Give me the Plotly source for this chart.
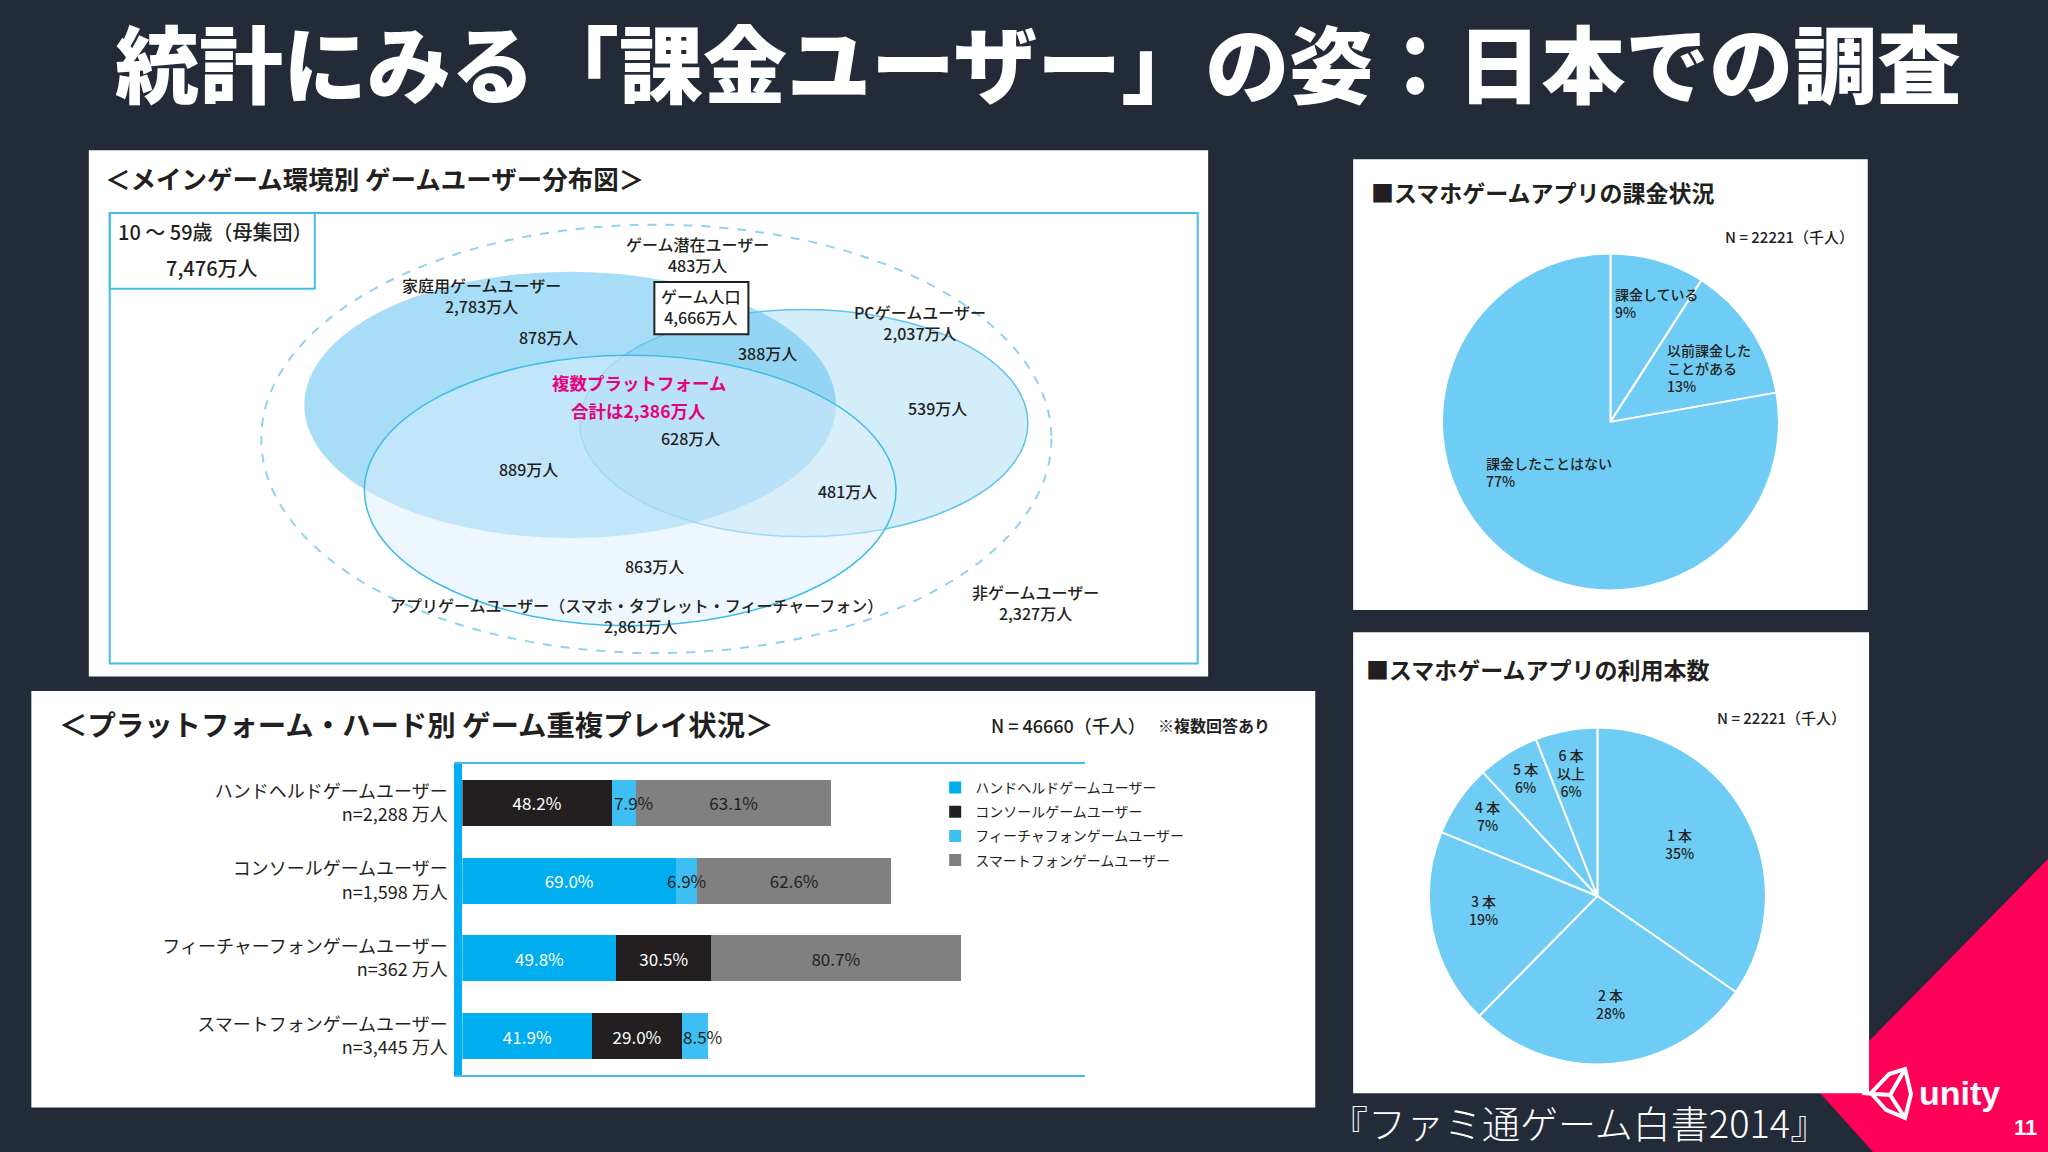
import plotly.graph_objects as go

# 重複プレイ状況の棒グラフ
USER_TYPES = ["ハンドヘルドゲームユーザー", "コンソールゲームユーザー", "フィーチャーフォンゲームユーザー", "スマートフォンゲームユーザー"]
USER_COUNTS = ["n=2,288 万人", "n=1,598 万人", "n=362 万人", "n=3,445 万人"]
HANDHELD = [None, 69.0, 49.8, 41.9]
CONSOLE = [48.2, None, 30.5, 29.0]
FEATURE = [7.9, 6.9, None, 8.5]
SMARTPHONE = [63.1, 62.6, 80.7, None]

# 円グラフ
BILLING_LABELS = ["課金している", "以前課金した<br>ことがある", "課金したことはない"]
BILLING_VALUES = [9, 13, 77]
APPS_LABELS = ["1 本", "2 本", "3 本", "4 本", "5 本", "6 本<br>以上"]
APPS_VALUES = [35, 28, 19, 7, 6, 6]

FONT = "Noto Sans CJK JP"
BG = "#232B38"
INK = "#231F20"
FRAME = "#45BDE8"
PIE_BLUE = "#6FCDF5"
BAR_COLORS = ["#00AEEF", "#231F20", "#3DBFF3", "#808080"]
S = 2048 / 1568  # 元画像の縮小座標からの倍率


def px(x):
    return x * S / 2048


def py(y):
    return 1 - y * S / 1152


def box(x0, y0, x1, y1, fill=None, line=None, width=0, kind="rect", dash=None):
    return dict(type=kind, xref="paper", yref="paper", layer="below",
                x0=px(x0), x1=px(x1), y0=py(y0), y1=py(y1),
                fillcolor=fill or "rgba(0,0,0,0)",
                line=dict(color=line or "rgba(0,0,0,0)", width=width, dash=dash))


def path(points, fill=None, line=None, width=0, close=True):
    d = "M" + " L".join(f"{x / 2048:.4f},{1 - y / 1152:.4f}" for x, y in points) + (" Z" if close else "")
    return dict(type="path", xref="paper", yref="paper", layer="below", path=d,
                fillcolor=fill or "rgba(0,0,0,0)",
                line=dict(color=line or "rgba(0,0,0,0)", width=width))


def note(text, x, y, size=16, color=INK, weight=500, anchor="center", font=FONT):
    return dict(text=text, x=px(x), y=py(y - 1),
                xref="paper", yref="paper", xanchor=anchor, yanchor="middle",
                align=anchor, showarrow=False,
                font=dict(family=font, size=size, color=color, weight=weight))


fig = go.Figure()

rows = [a + "<br>" + b for a, b in zip(USER_TYPES, USER_COUNTS)]
series = [("ハンドヘルドゲームユーザー", HANDHELD, "white"), ("コンソールゲームユーザー", CONSOLE, "white"),
          ("フィーチャフォンゲームユーザー", FEATURE, INK), ("スマートフォンゲームユーザー", SMARTPHONE, INK)]
for (name, vals, tc), col in zip(series, BAR_COLORS):
    # 細い区間の数字は次の棒に隠れるので後で注釈にする
    fig.add_trace(go.Bar(
        y=rows, x=vals, name=name, legendgroup=name, orientation="h",
        marker=dict(color=col, line=dict(width=0)),
        text=None if vals is FEATURE else [None if v is None else f"{v:.1f}%" for v in vals],
        textposition="inside", insidetextanchor="middle", constraintext="none",
        textangle=0, textfont=dict(family=FONT, size=17, color=tc), cliponaxis=False,
    ))

fig.add_trace(go.Pie(
    labels=BILLING_LABELS, values=BILLING_VALUES, sort=False, direction="clockwise", rotation=0,
    marker=dict(colors=[PIE_BLUE] * 3, line=dict(color="white", width=2)),
    textinfo="none", showlegend=False,
    domain=dict(x=[px(1104), px(1362)], y=[py(452), py(194)]),
))
fig.add_trace(go.Pie(
    labels=APPS_LABELS, values=APPS_VALUES, sort=False, direction="clockwise", rotation=0,
    marker=dict(colors=[PIE_BLUE] * 6, line=dict(color="white", width=2)),
    textinfo="none", showlegend=False,
    domain=dict(x=[px(1094), px(1352)], y=[py(815), py(557)]),
))

shapes = [
    path([(2048, 859), (1819, 1092), (1873, 1152), (2048, 1152)], fill="#FF0058"),
    box(68, 115, 925, 518, fill="white"),
    box(24, 529, 1007, 848, fill="white"),
    box(1036, 122, 1430, 467, fill="white"),
    box(1036, 484, 1431, 837, fill="white"),
    # ベン図
    box(84, 163, 917, 508, line=FRAME, width=2),
    box(84, 163, 241, 221, line=FRAME, width=2),
    box(200, 172, 805, 500, line="#8FD3F0", width=2, kind="circle", dash="dash"),
    box(444, 237, 787, 411, fill="rgba(170,220,246,0.5)", line="#5CC5EE", width=1.5, kind="circle"),
    box(233, 208, 640, 412, fill="rgba(104,197,240,0.58)", kind="circle"),
    box(279, 272, 686, 479, fill="rgba(221,239,251,0.5)", line="#3DBDE8", width=1.5, kind="circle"),
    box(501, 216, 573, 256, fill="white", line=INK, width=2),
    # ユニティのロゴ
    path([(1871, 1093), (1889, 1074), (1905, 1069), (1911, 1094), (1905, 1118), (1886, 1110)], line="white", width=4),
    path([(1905, 1069), (1890, 1095), (1905, 1118)], line="white", width=4, close=False),
    path([(1862, 1093), (1890, 1095)], line="white", width=4, close=False),
]

annotations = [
    note("統計にみる「課金ユーザー」の姿：日本での調査", 795, 47, size=84, color="white", weight=900),
    note("『ファミ通ゲーム白書2014』", 1209, 860, size=38, color="white", weight=300),
    note("unity", 1959 / S, 1094 / S, size=34, color="white", weight=700, font="Liberation Sans"),
    note("11", 2025 / S, 1129 / S, size=22, color="white", weight=700, font="Liberation Sans"),
    note("＜メインゲーム環境別 ゲームユーザー分布図＞", 79, 137, size=25.5, weight=700, anchor="left"),
    note("10 ～ 59歳（母集団）", 165, 178, size=20),
    note("7,476万人", 162, 206, size=20),
    note("ゲーム潜在ユーザー<br>483万人", 534, 196),
    note("家庭用ゲームユーザー<br>2,783万人", 369, 227),
    note("ゲーム人口<br>4,666万人", 537, 236),
    note("PCゲームユーザー<br>2,037万人", 704, 248),
    note("878万人", 420, 259),
    note("388万人", 588, 271),
    note("539万人", 718, 313),
    note("628万人", 529, 336),
    note("889万人", 405, 360),
    note("481万人", 649, 377),
    note("863万人", 501, 434),
    note("複数プラットフォーム", 489, 294, size=17.5, color="#E6007E", weight=700),
    note("合計は2,386万人", 489, 315, size=17.5, color="#E6007E", weight=700),
    note("アプリゲームユーザー（スマホ・タブレット・フィーチャーフォン）", 487, 464),
    note("2,861万人", 490, 480),
    note("非ゲームユーザー<br>2,327万人", 793, 462),
    note("＜プラットフォーム・ハード別 ゲーム重複プレイ状況＞", 44, 555, size=28.4, weight=700, anchor="left"),
    note("N = 46660（千人）", 757, 556, size=18, anchor="left"),
    note("※複数回答あり", 885, 556, size=16, weight=700, anchor="left"),
    note("■スマホゲームアプリの課金状況", 1048, 148, size=23, weight=700, anchor="left"),
    note("N = 22221（千人）", 1421, 182, size=15, anchor="right"),
    note(f"{BILLING_LABELS[0]}<br>{BILLING_VALUES[0]}%", 1235, 233, size=14, anchor="left"),
    note(f"{BILLING_LABELS[1]}<br>{BILLING_VALUES[1]}%", 1275, 283, size=14, anchor="left"),
    note(f"{BILLING_LABELS[2]}<br>{BILLING_VALUES[2]}%", 1136, 362, size=14, anchor="left"),
    note("■スマホゲームアプリの利用本数", 1044, 513, size=23, weight=700, anchor="left"),
    note("N = 22221（千人）", 1415, 550, size=15, anchor="right"),
    note(f"{APPS_LABELS[0]}<br>{APPS_VALUES[0]}%", 1286, 647, size=14),
    note(f"{APPS_LABELS[1]}<br>{APPS_VALUES[1]}%", 1233, 770, size=14),
    note(f"{APPS_LABELS[2]}<br>{APPS_VALUES[2]}%", 1136, 698, size=14),
    note(f"{APPS_LABELS[3]}<br>{APPS_VALUES[3]}%", 1139, 626, size=14),
    note(f"{APPS_LABELS[4]}<br>{APPS_VALUES[4]}%", 1168, 597, size=14),
    note(f"{APPS_LABELS[5]}<br>{APPS_VALUES[5]}%", 1203, 593, size=14),
]

# フィーチャーフォンの区間の数字:積み上げ位置から求める
before = [(h or 0) + (c or 0) for h, c in zip(HANDHELD, CONSOLE)]
for row, start, v, shift in zip(rows, before, FEATURE, [10, 0, 0, 8]):
    if v is not None:
        annotations.append(dict(text=f"{v:.1f}%", x=start + v / 2, y=row, xref="x", yref="y", xshift=shift,
                                showarrow=False, font=dict(family=FONT, size=17, color=INK)))

fig.update_layout(
    width=2048, height=1152, margin=dict(l=0, r=0, t=0, b=0),
    paper_bgcolor=BG, plot_bgcolor="rgba(0,0,0,0)",
    barmode="stack", bargap=0.41,
    font=dict(family=FONT, color=INK),
    shapes=shapes, annotations=annotations,
    xaxis=dict(domain=[px(354), px(831)], range=[0, 201.3], showticklabels=False, showgrid=False,
               zeroline=False, showline=True, mirror=True, linecolor=FRAME, linewidth=2, ticks=""),
    yaxis=dict(domain=[py(823), py(585)], type="category", categoryorder="array", categoryarray=rows,
               range=[3.5, -0.5], showgrid=False, zeroline=False, showline=True, linecolor="#00AEEF",
               linewidth=8, ticks="", ticklabelstandoff=3, tickfont=dict(family=FONT, size=18, color=INK)),
    legend=dict(x=px(716), y=py(591), xanchor="left", yanchor="top", bgcolor="rgba(0,0,0,0)",
                font=dict(family=FONT, size=14, color=INK), traceorder="grouped", tracegroupgap=3, itemclick=False),
)

fig.write_html("out.html", config=dict(displayModeBar=False), post_script="document.body.style.margin='0';")
